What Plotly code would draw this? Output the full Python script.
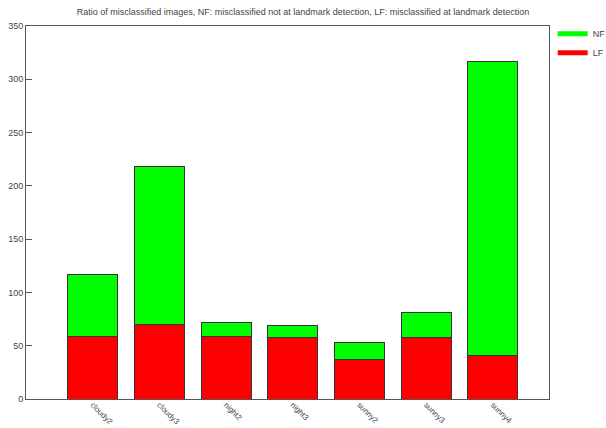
import plotly.graph_objects as go

categories = ["cloudy2", "cloudy3", "night2", "night3", "sunny2", "sunny3", "sunny4"]
lf_values = [59, 70, 59, 58, 37, 58, 41]
nf_values = [58, 148, 13, 11, 16, 23, 276]
y_ticks = [0, 50, 100, 150, 200, 250, 300, 350]

GREEN = "#00ff00"
RED = "#ff0000"
EDGE = "#333333"
TEXT = "#444444"
FONT = "Liberation Sans"

x_pos = list(range(len(categories)))

fig = go.Figure()
fig.add_trace(go.Bar(x=x_pos, y=lf_values, name="LF", marker=dict(color=RED, line=dict(color=EDGE, width=1)),
                     width=0.75, showlegend=False))
fig.add_trace(go.Bar(x=x_pos, y=nf_values, name="NF", marker=dict(color=GREEN, line=dict(color=EDGE, width=1)),
                     width=0.75, showlegend=False))

# legend entries drawn as thick line swatches
fig.add_trace(go.Scatter(x=[None], y=[None], mode="lines", name="NF",
                         line=dict(color=GREEN, width=5)))
fig.add_trace(go.Scatter(x=[None], y=[None], mode="lines", name="LF",
                         line=dict(color=RED, width=5)))

fig.update_layout(
    barmode="stack",
    width=606, height=428,
    margin=dict(l=26, r=57, t=26, b=29),
    paper_bgcolor="white", plot_bgcolor="white",
    font=dict(family=FONT, size=9, color=TEXT),
    title=dict(text="Ratio of misclassified images, NF: misclassified not at landmark detection, LF: misclassified at landmark detection",
               x=0.5, xanchor="center", y=0.98, yanchor="top",
               font=dict(family=FONT, size=9, color=TEXT)),
    legend=dict(xref="container", yref="container", x=0.912, xanchor="left",
                y=0.955, yanchor="top",
                traceorder="normal", font=dict(size=9, color=TEXT),
                bgcolor="rgba(0,0,0,0)", itemwidth=30, tracegroupgap=0),
    showlegend=True,
)
fig.update_xaxes(range=[-1, 6.84], tickmode="array", tickvals=x_pos, ticktext=categories,
                 tickangle=45, showgrid=False, zeroline=False, automargin=False,
                 showline=True, linecolor="#555555", linewidth=1, mirror=True,
                 ticks="", ticklabelstandoff=-3, tickfont=dict(size=8, color=TEXT))
fig.update_yaxes(range=[0, 350], tickmode="array", tickvals=y_ticks,
                 showgrid=False, zeroline=False, automargin=False,
                 showline=True, linecolor="#555555", linewidth=1, mirror=True,
                 ticks="inside", ticklen=6, tickcolor="#555555",
                 tickfont=dict(size=9, color=TEXT))

fig.write_html("out.html")
